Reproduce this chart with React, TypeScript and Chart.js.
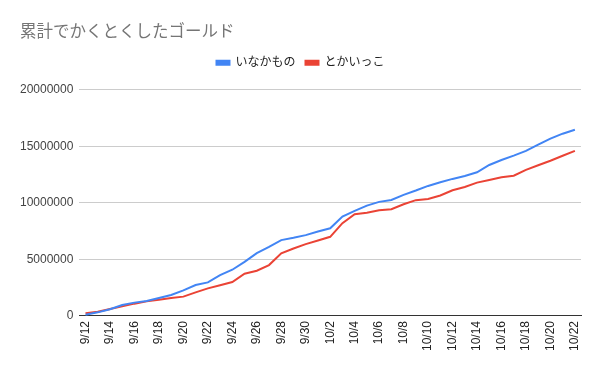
import React, { useEffect, useRef } from "react";
import { Chart, registerables } from "chart.js";

Chart.register(...registerables);

const TITLE = "累計でかくとくしたゴールド";
const SERIES_NAMES = ["いなかもの", "とかいっこ"];

const dates = [
  "9/12", "9/13", "9/14", "9/15", "9/16", "9/17", "9/18", "9/19", "9/20", "9/21",
  "9/22", "9/23", "9/24", "9/25", "9/26", "9/27", "9/28", "9/29", "9/30",
  "10/1", "10/2", "10/3", "10/4", "10/5", "10/6", "10/7", "10/8", "10/9", "10/10",
  "10/11", "10/12", "10/13", "10/14", "10/15", "10/16", "10/17", "10/18", "10/19",
  "10/20", "10/21", "10/22",
];

const inakamono = [
  100000, 320000, 590000, 970000, 1180000, 1320000, 1590000, 1850000, 2260000, 2740000,
  2970000, 3620000, 4090000, 4790000, 5560000, 6100000, 6710000, 6910000, 7150000,
  7470000, 7750000, 8790000, 9290000, 9760000, 10090000, 10260000, 10710000, 11090000, 11500000,
  11820000, 12120000, 12380000, 12710000, 13350000, 13790000, 14180000, 14600000, 15150000,
  15680000, 16120000, 16470000,
];

const tokaikko = [
  240000, 380000, 620000, 850000, 1090000, 1290000, 1440000, 1590000, 1710000, 2090000,
  2440000, 2710000, 3000000, 3740000, 4000000, 4500000, 5540000, 5970000, 6350000,
  6680000, 7000000, 8210000, 9000000, 9120000, 9350000, 9440000, 9880000, 10240000, 10350000,
  10650000, 11120000, 11410000, 11790000, 12030000, 12260000, 12400000, 12920000, 13330000,
  13730000, 14170000, 14600000,
];

const yTicks = [0, 5000000, 10000000, 15000000, 20000000];

const FONT = "'Liberation Sans', Arial, 'Noto Sans CJK JP', sans-serif";

export default function App() {
  const ref = useRef<HTMLCanvasElement | null>(null);

  useEffect(() => {
    if (!ref.current) return;
    const layoutTweaks = {
      id: "layoutTweaks",
      beforeInit(chart: any) {
        const orig = chart.legend.fit;
        chart.legend.fit = function () {
          orig.call(this);
          this.height += 11;
        };
      },
      afterLayout(chart: any) {
        const tb = chart.titleBlock;
        if (tb) {
          tb.left += 6;
          tb.right += 6;
        }
        const lg = chart.legend;
        if (lg && lg.legendHitBoxes) {
          lg.left += 3;
          lg.right += 3;
        }
      },
    };
    const chart = new Chart(ref.current, {
      type: "line",
      data: {
        labels: dates,
        datasets: [
          {
            label: SERIES_NAMES[0],
            data: inakamono,
            borderColor: "#4285F4",
            backgroundColor: "#4285F4",
            borderWidth: 2,
            pointRadius: 0,
            tension: 0,
          },
          {
            label: SERIES_NAMES[1],
            data: tokaikko,
            borderColor: "#EA4335",
            backgroundColor: "#EA4335",
            borderWidth: 2,
            pointRadius: 0,
            tension: 0,
          },
        ],
      },
      options: {
        animation: false,
        responsive: false,
        maintainAspectRatio: false,
        layout: { padding: { left: 14, right: 19, top: 0, bottom: 15 } },
        plugins: {
          title: {
            display: true,
            text: TITLE,
            align: "start",
            color: "#757575",
            font: { family: FONT, size: 16.5, weight: "normal" },
            padding: { top: 23, bottom: 4 },
          },
          legend: {
            display: true,
            position: "top",
            labels: {
              boxWidth: 13,
              boxHeight: 4,
              color: "#222",
              font: { family: FONT, size: 12 },
              padding: 10,
            },
          },
          tooltip: { enabled: false },
        },
        scales: {
          x: {
            offset: true,
            grid: { display: false, drawTicks: false },
            border: { display: true, color: "#333", width: 1 },
            ticks: {
              autoSkip: false,
              maxRotation: 90,
              minRotation: 90,
              padding: 5,
              color: "#222",
              font: { family: FONT, size: 12 },
              callback: (_v: any, i: number) => (i % 2 === 0 ? dates[i] : ""),
            },
          },
          y: {
            min: yTicks[0],
            max: yTicks[yTicks.length - 1],
            afterBuildTicks: (axis: any) => {
              axis.ticks = yTicks.map((v) => ({ value: v }));
            },
            grid: { color: "#cccccc", drawTicks: false },
            border: { display: false },
            ticks: {
              padding: 6,
              color: "#444",
              font: { family: FONT, size: 12 },
              callback: (v: any) => String(v),
            },
          },
        },
      },
      plugins: [layoutTweaks],
    });
    return () => chart.destroy();
  }, []);

  return (
    <div style={{ position: "fixed", left: 0, top: 0, width: 600, height: 371, background: "#fff" }}>
      <canvas ref={ref} width={600} height={371} style={{ width: 600, height: 371 }} />
    </div>
  );
}
